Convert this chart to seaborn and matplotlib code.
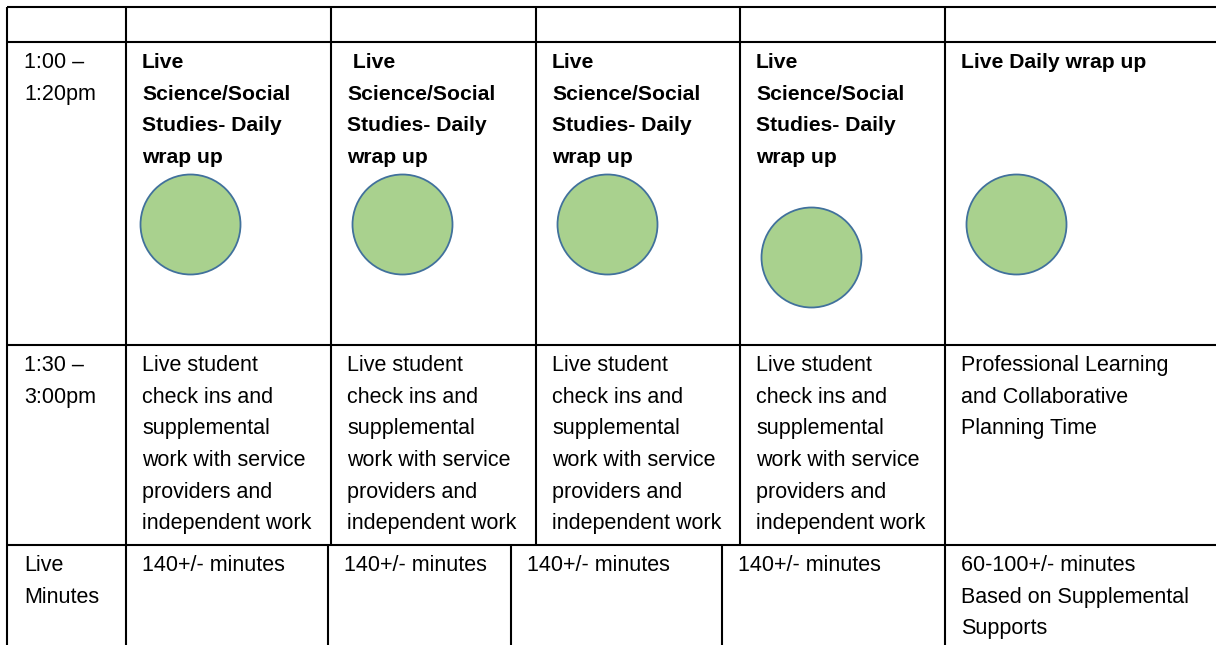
import matplotlib
matplotlib.use("Agg")
import matplotlib.pyplot as plt
import seaborn as sns

# === Table content ===
time_labels = [["1:00 –", "1:20pm"], ["1:30 –", "3:00pm"], ["Live", "Minutes"]]

wrapup_text = [
    ["Live", "Science/Social", "Studies- Daily", "wrap up"],
    [" Live", "Science/Social", "Studies- Daily", "wrap up"],
    ["Live", "Science/Social", "Studies- Daily", "wrap up"],
    ["Live", "Science/Social", "Studies- Daily", "wrap up"],
    ["Live Daily wrap up"],
]

checkin_block = ["Live student", "check ins and", "supplemental",
                 "work with service", "providers and", "independent work"]
checkin_text = [checkin_block] * 4 + [["Professional Learning", "and Collaborative", "Planning Time"]]

minutes_text = [["140+/- minutes"]] * 4 + [["60-100+/- minutes", "Based on Supplemental", "Supports"]]

# === Layout (pixels) ===
W, H = 1216, 645
row_y = [7, 42, 345, 545]
col_x_top = [7, 126, 331, 536, 740, 945]
col_x_bot = [7, 126, 328, 511, 722, 945]
circle_dx = [64, 71, 71, 71, 71]
circle_y = [224, 224, 224, 257, 224]
PAD_X, FIRST_BASE, LINE_H = 16, 26, 31.7

sns.set_theme(style="white")
plt.rcParams["font.family"] = ["Liberation Sans", "DejaVu Sans"]

fig = plt.figure(figsize=(W / 100, H / 100), dpi=100)
ax = fig.add_axes([0, 0, 1, 1])
ax.set_xlim(0, W)
ax.set_ylim(H, 0)
ax.axis("off")

lw = 1.5
# horizontal rules
for y in row_y:
    ax.plot([col_x_top[0], W], [y, y], color="black", lw=lw, solid_capstyle="butt")
# vertical rules, upper rows and bottom row
for x in col_x_top:
    ax.plot([x, x], [row_y[0], row_y[3]], color="black", lw=lw, solid_capstyle="butt")
for x in col_x_bot:
    ax.plot([x, x], [row_y[3], H], color="black", lw=lw, solid_capstyle="butt")


def put_lines(x, top, lines, bold=False):
    for i, s in enumerate(lines):
        ax.text(x, top + FIRST_BASE + i * LINE_H, s, va="baseline", ha="left",
                fontsize=15.2 if bold else 15.5,
                fontweight="bold" if bold else "normal", color="black")


# first column: times
for r, lab in enumerate(time_labels):
    put_lines(col_x_top[0] + 17, row_y[r + 1], lab)

# row: 1:00 - 1:20pm
for c, lines in enumerate(wrapup_text):
    put_lines(col_x_top[c + 1] + PAD_X, row_y[1], lines, bold=True)

# green circles
cx = [col_x_top[c + 1] + circle_dx[c] for c in range(5)]
sns.scatterplot(x=cx, y=circle_y, s=5184, color="#a9d18e", edgecolor="#41719c",
                linewidth=1.3, ax=ax, legend=False, zorder=3)
ax.set_xlim(0, W)
ax.set_ylim(H, 0)
ax.axis("off")

# row: 1:30 - 3:00pm
for c, lines in enumerate(checkin_text):
    put_lines(col_x_top[c + 1] + PAD_X, row_y[2], lines)

# row: live minutes
for c, lines in enumerate(minutes_text):
    put_lines(col_x_bot[c + 1] + PAD_X, row_y[3], lines)

fig.savefig("out.png", dpi=100, facecolor="white")
